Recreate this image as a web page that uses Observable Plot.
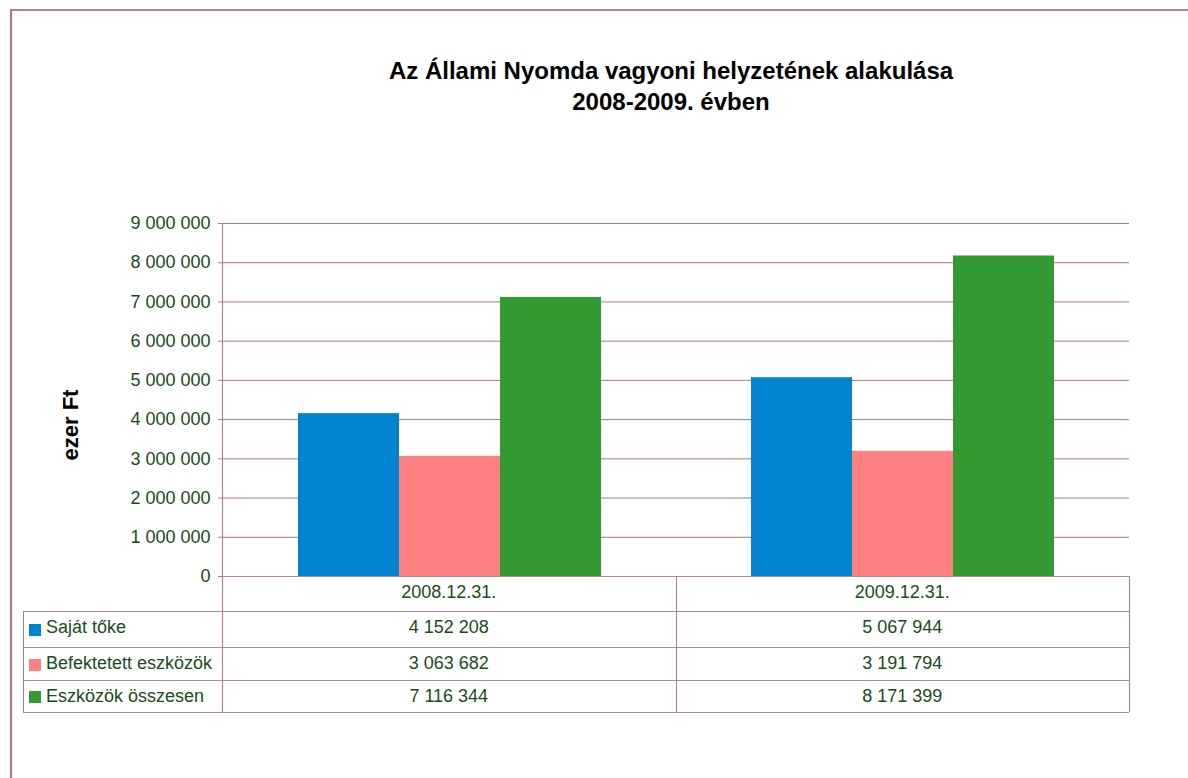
<!DOCTYPE html>
<html>
<head>
<meta charset="utf-8">
<script src="https://cdn.jsdelivr.net/npm/d3@7"></script>
<script src="https://cdn.jsdelivr.net/npm/@observablehq/plot@0.6"></script>
<style>
  html, body { margin: 0; padding: 0; background: #fff; }
  #wrap { position: relative; width: 1188px; height: 778px; overflow: hidden; font-family: "Liberation Sans", Arial, sans-serif; }
  #frame { position: absolute; left: 10px; top: 9px; width: 1300px; height: 900px; border-top: 2px solid #b48484; border-left: 2px solid #b07474; }
  .title { position: absolute; left: 0; width: 1342px; text-align: center; font-weight: bold; font-size: 24px; color: #000; }
  #ylabel { position: absolute; left: 71px; top: 425px; transform: translate(-50%, -50%) rotate(-90deg); font-weight: bold; font-size: 22px; white-space: nowrap; color: #000; }
  #chart { position: absolute; left: 0; top: 0; }
  .hl { position: absolute; height: 0; border-top: 1.5px solid #b58a8a; }
  .vl { position: absolute; width: 0; border-left: 1.5px solid #b07a7a; }
  .cell { position: absolute; font-size: 18px; color: #1c4a1c; text-align: center; white-space: nowrap; }
  .leg { position: absolute; font-size: 18px; color: #1c4a1c; white-space: nowrap; }
  .key { position: absolute; width: 12px; height: 12px; }
</style>
</head>
<body>
<div id="wrap">
  <div id="frame"></div>
  <div class="title" style="top:57px">Az Állami Nyomda vagyoni helyzetének alakulása</div>
  <div class="title" style="top:88px">2008-2009. évben</div>
  <div id="ylabel">ezer Ft</div>
  <div id="chart"></div>
  <div id="table"></div>
</div>
<script>
const categories = ["2008.12.31.", "2009.12.31."];
const series = ["Saját tőke", "Befektetett eszközök", "Eszközök összesen"];
const sajatToke = [4152208, 5067944];
const befektetett = [3063682, 3191794];
const eszkozok = [7116344, 8171399];
const colors = ["#0084d1", "#ff8080", "#339933"];
const yTicks = [0, 1000000, 2000000, 3000000, 4000000, 5000000, 6000000, 7000000, 8000000, 9000000];

const seriesValues = [sajatToke, befektetett, eszkozok];
const data = [];
categories.forEach((c, i) => series.forEach((s, j) => data.push({cat: c, series: s, value: seriesValues[j][i]})));

const loc = d3.formatLocale({decimal: ",", thousands: " ", grouping: [3], currency: ["", ""]});
const fmt = loc.format(",d");

const M = {left: 222, right: 59, top: 223, plotBottom: 576};
const W = 1188;

const chart = Plot.plot({
  width: W,
  height: M.plotBottom + 14,
  marginTop: M.top,
  marginLeft: M.left,
  marginRight: M.right,
  marginBottom: 14,
  style: {fontFamily: "'Liberation Sans', Arial, sans-serif", background: "transparent"},
  fx: {domain: categories, padding: 0, axis: null},
  x: {domain: series, paddingInner: 0, paddingOuter: 0.74, axis: null},
  y: {domain: [0, 9000000], axis: null},
  color: {domain: series, range: colors},
  marks: [
    Plot.gridY(yTicks, {stroke: "#b07a7a", strokeOpacity: 1, strokeWidth: 1}),
    Plot.barY(data, {fx: "cat", x: "series", y: "value", fill: "series"}),
    Plot.axisY(yTicks, {tickSize: 5, tickPadding: 8, stroke: "#b07a7a", fill: "#1c4a1c", fontSize: 18, tickFormat: fmt, label: null})
  ]
});
document.getElementById("chart").appendChild(chart);

// data table below the chart
const tbl = document.getElementById("table");
const L = 23, R = W - M.right, colX = [M.left, (M.left + R) / 2, R];
const rows = [576, 611, 647, 680, 712];
function add(cls, style, text) {
  const d = document.createElement("div");
  d.className = cls;
  Object.assign(d.style, style);
  if (text != null) d.textContent = text;
  tbl.appendChild(d);
  return d;
}
// horizontal lines
add("hl", {left: M.left + "px", top: rows[0] + "px", width: (R - M.left) + "px"});
for (let k = 1; k < rows.length; k++) add("hl", {left: L + "px", top: rows[k] + "px", width: (R - L) + "px"});
// vertical lines
add("vl", {left: M.left + "px", top: M.top + "px", height: (rows[4] - M.top) + "px"});
add("vl", {left: colX[1] + "px", top: rows[0] + "px", height: (rows[4] - rows[0]) + "px"});
add("vl", {left: R + "px", top: rows[0] + "px", height: (rows[4] - rows[0]) + "px"});
add("vl", {left: L + "px", top: rows[1] + "px", height: (rows[4] - rows[1]) + "px"});
// header
categories.forEach((c, i) => {
  add("cell", {left: colX[i] + "px", width: (colX[i + 1] - colX[i]) + "px", top: (rows[0] + 6) + "px"}, c);
});
// rows
series.forEach((s, j) => {
  const top = rows[j + 1];
  add("key", {left: "29px", top: (top + (rows[j + 2] - top) / 2 - 5) + "px", background: colors[j]});
  add("leg", {left: "46px", top: (top + 6) + "px"}, s);
  categories.forEach((c, i) => {
    add("cell", {left: colX[i] + "px", width: (colX[i + 1] - colX[i]) + "px", top: (top + 6) + "px"}, fmt(seriesValues[j][i]));
  });
});
</script>
</body>
</html>
